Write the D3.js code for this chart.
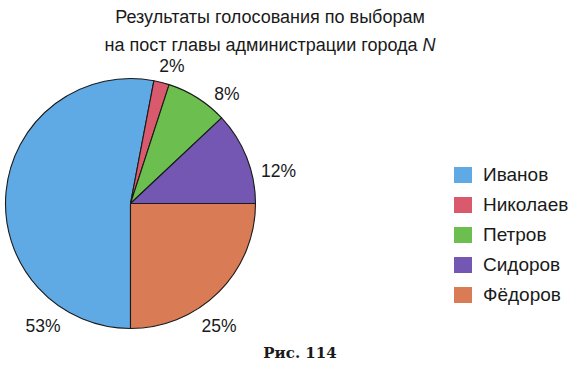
<!DOCTYPE html>
<html><head><meta charset="utf-8">
<script src="https://cdn.jsdelivr.net/npm/d3@7"></script>
<style>body{margin:0;background:#fff;}svg{display:block;}</style>
</head><body>
<svg id="c" width="577" height="367"></svg>
<script>
const categories = ["Иванов", "Николаев", "Петров", "Сидоров", "Фёдоров"];
const values = [53, 2, 8, 12, 25];
const labels = ["53%", "2%", "8%", "12%", "25%"];
const colors = ["#5fa9e4", "#d95a6c", "#6cbf4e", "#7457b2", "#d97b55"];
const titleLines = ["Результаты голосования по выборам", "на пост главы администрации города "];
const figCaption = "Рис. 114";

const svg = d3.select("#c");
const cx = 130.5, cy = 203.5, r = 125;
const font = "'Liberation Sans', Arial, sans-serif";

const pie = d3.pie().sort(null).value(d => d)
  .startAngle(Math.PI).endAngle(3 * Math.PI);
const arcs = pie(values);
const arc = d3.arc().innerRadius(0).outerRadius(r);

const g = svg.append("g").attr("transform", `translate(${cx},${cy})`);
g.selectAll("path").data(arcs).enter().append("path")
  .attr("d", arc)
  .attr("fill", (d, i) => colors[i])
  .attr("stroke", "#1a1a1a")
  .attr("stroke-width", 1.1)
  .attr("stroke-linejoin", "round");

// percent labels
const labelPos = [[-87.5, 128.5], [41.5, -131.5], [96.5, -103.5], [148, -26.5], [88.5, 128.5]];
g.selectAll("text.pct").data(arcs).enter().append("text")
  .attr("class", "pct")
  .attr("x", (d, i) => labelPos[i][0])
  .attr("y", (d, i) => labelPos[i][1])
  .attr("text-anchor", "middle")
  .attr("font-family", font)
  .attr("font-size", 17.5)
  .attr("fill", "#1a1a1a")
  .text((d, i) => labels[i]);

// title
const t = svg.append("text").attr("font-family", font).attr("font-size", 18)
  .attr("fill", "#1a1a1a").attr("text-anchor", "middle");
t.append("tspan").attr("x", 270).attr("y", 23).text(titleLines[0]);
const t2 = t.append("tspan").attr("x", 270).attr("y", 51).text(titleLines[1]);
t2.append("tspan").attr("font-style", "italic").text("N");

// legend
const legendY = d3.scalePoint().domain(categories).range([175, 295]);
const lg = svg.append("g");
const items = lg.selectAll("g").data(categories).enter().append("g")
  .attr("transform", d => `translate(454,${legendY(d)})`);
items.append("rect").attr("x", 0).attr("y", -8).attr("width", 18).attr("height", 16)
  .attr("fill", (d, i) => colors[i]);
items.append("text").attr("x", 29).attr("y", 6)
  .attr("font-family", font).attr("font-size", 19).attr("fill", "#1a1a1a")
  .text(d => d);

// caption
svg.append("text").attr("x", 300).attr("y", 358).attr("text-anchor", "middle")
  .attr("font-family", "'DejaVu Serif', 'Liberation Serif', serif")
  .attr("font-weight", "bold").attr("font-size", 15).attr("fill", "#1a1a1a")
  .text(figCaption);
</script>
</body></html>
